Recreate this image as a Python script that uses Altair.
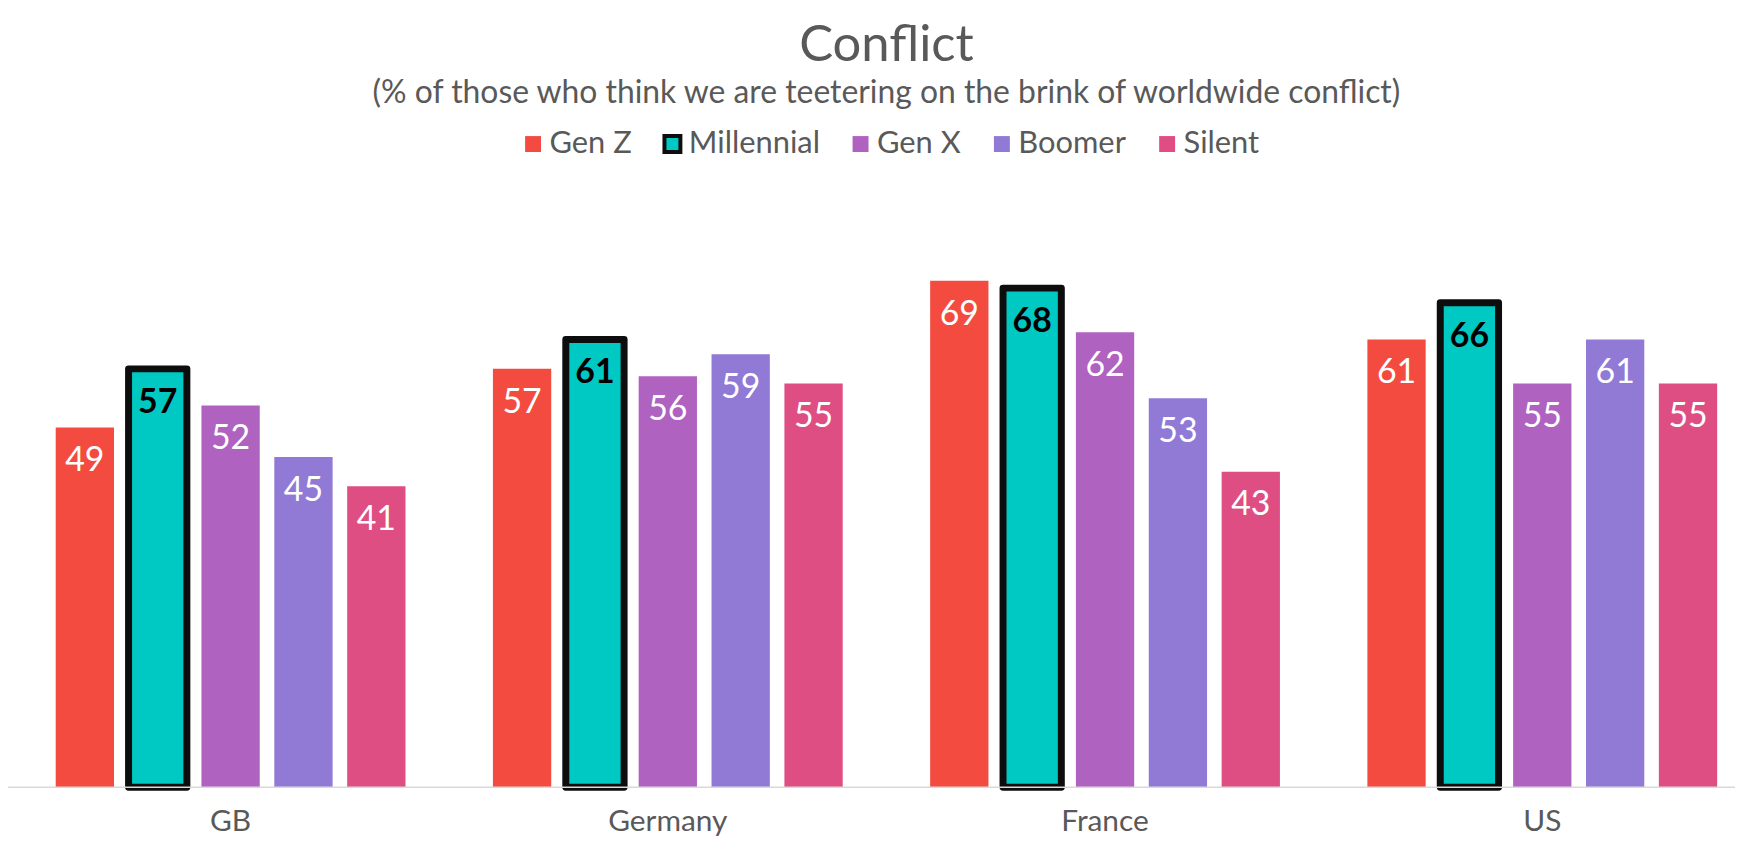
import altair as alt
import pandas as pd

countries = ["GB", "Germany", "France", "US"]
generations = ["Gen Z", "Millennial", "Gen X", "Boomer", "Silent"]
gen_z = [49, 57, 69, 61]
millennial = [57, 61, 68, 66]
gen_x = [52, 56, 62, 55]
boomer = [45, 59, 53, 61]
silent = [41, 55, 43, 55]
colors = ["#F44B40", "#00C8C3", "#B062C1", "#917AD6", "#DE4E82"]
strokes = ["transparent", "#0D0D0D", "transparent", "transparent", "transparent"]

series = [gen_z, millennial, gen_x, boomer, silent]
rows = []
for g, vals in zip(generations, series):
    for c, v in zip(countries, vals):
        rows.append({"country": c, "generation": g, "value": v})
df = pd.DataFrame(rows)

FONT = "Lato"
GREY = "#595959"
W, H = 1735, 590

x_enc = alt.X("country:N", sort=countries, title=None,
              scale=alt.Scale(domain=countries, range=[4, 1761], paddingInner=0, paddingOuter=0),
              axis=alt.Axis(domain=False, ticks=False, labelAngle=0, labelFontSize=30,
                            labelColor=GREY, labelFont=FONT, labelPadding=19))
xo_enc = alt.XOffset("generation:N", sort=generations,
                     scale=alt.Scale(domain=generations, paddingInner=0.2, paddingOuter=0.6))
y_enc = alt.Y("value:Q", title=None, scale=alt.Scale(domain=[0, 80], nice=False), axis=None)

legend_kw = dict(title=None, orient="none", direction="horizontal",
                 legendX=512, legendY=-72, columns=5,
                 symbolType="square", symbolSize=256, symbolStrokeWidth=4,
                 labelFontSize=31, labelFont=FONT, labelColor=GREY,
                 labelOffset=1, columnPadding=24, padding=0)

base = alt.Chart(df)

bars = base.mark_bar(strokeWidth=7, strokeJoin="round").encode(
    x=x_enc,
    xOffset=xo_enc,
    y=y_enc,
    fill=alt.Fill("generation:N", sort=generations,
                  scale=alt.Scale(domain=generations, range=colors),
                  legend=alt.Legend(**legend_kw)),
    stroke=alt.Stroke("generation:N", sort=generations,
                      scale=alt.Scale(domain=generations, range=strokes),
                      legend=alt.Legend(**legend_kw)),
)

labels = base.transform_filter(alt.datum.generation != "Millennial").mark_text(
    baseline="middle", dy=34, fontSize=34, font=FONT, color="white"
).encode(x=x_enc, xOffset=xo_enc, y=y_enc, text="value:Q")

labels_m = base.transform_filter(alt.datum.generation == "Millennial").mark_text(
    baseline="middle", dy=34, fontSize=34, font=FONT, fontWeight="bold", color="black"
).encode(x=x_enc, xOffset=xo_enc, y=y_enc, text="value:Q")

rule = alt.Chart(pd.DataFrame({"a": [0]})).mark_rule(color="#D9D9D9", strokeWidth=1.5).encode(
    x=alt.value(0), x2=alt.value(W), y=alt.value(H)
)

chart = alt.layer(bars, labels, labels_m, rule).properties(
    width=W, height=H,
    title=alt.TitleParams(
        text="Conflict",
        subtitle="(% of those who think we are teetering on the brink of worldwide conflict)",
        anchor="middle", dx=15, offset=18,
        font=FONT, fontSize=51, fontWeight="normal", color=GREY,
        subtitleFont=FONT, subtitleFontSize=32, subtitleColor=GREY, subtitlePadding=7,
    ),
    autosize=alt.AutoSizeParams(type="none"),
    padding={"left": 0, "right": 0, "top": 191, "bottom": 48},
).configure_view(stroke=None)

chart.save("out.html", embed_options={"renderer": "svg", "actions": False})
